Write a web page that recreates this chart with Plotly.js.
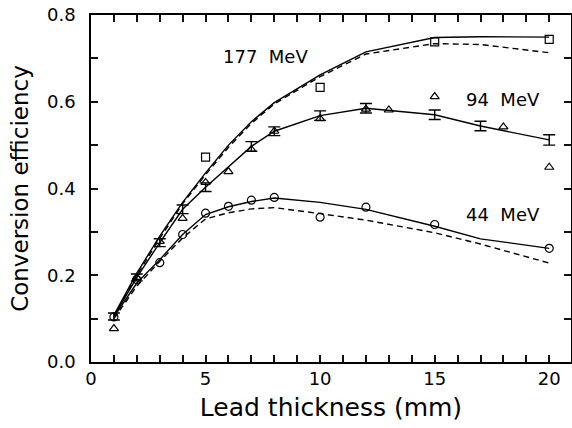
<!DOCTYPE html>
<html>
<head>
<meta charset="utf-8">
<script src="https://cdn.plot.ly/plotly-3.0.1.min.js"></script>
<style>html,body{margin:0;padding:0;background:#fff;}#chart{width:572px;height:428px;}</style>
</head>
<body>
<div id="chart"></div>
<script>
// 177 MeV
const sqX = [5, 10, 15, 20];
const sqY = [0.4725, 0.633, 0.738, 0.744];
const line177X = [1, 2, 3, 4, 5, 6, 7, 8, 10, 12, 15, 17, 20];
const line177Y = [0.108, 0.205, 0.290, 0.368, 0.436, 0.500, 0.554, 0.598, 0.662, 0.715, 0.748, 0.750, 0.749];
const dash177Y = [0.105, 0.200, 0.285, 0.365, 0.432, 0.495, 0.550, 0.595, 0.658, 0.710, 0.734, 0.732, 0.713];
// 94 MeV
const triX = [1, 2, 3, 4, 5, 6, 7, 8, 10, 12, 13, 15, 18, 20];
const triY = [0.077, 0.195, 0.278, 0.331, 0.414, 0.439, 0.490, 0.532, 0.561, 0.583, 0.581, 0.612, 0.542, 0.449];
const errX = [1, 2, 3, 4, 5, 7, 8, 10, 12, 15, 17, 20];
const errY = [0.105, 0.195, 0.275, 0.352, 0.403, 0.497, 0.532, 0.568, 0.585, 0.570, 0.544, 0.512];
const errE = [0.008, 0.008, 0.009, 0.010, 0.010, 0.011, 0.010, 0.011, 0.011, 0.011, 0.011, 0.012];
// 44 MeV
const circX = [1, 2, 3, 4, 5, 6, 7, 8, 10, 12, 15, 20];
const circY = [0.104, 0.190, 0.229, 0.294, 0.343, 0.359, 0.373, 0.3795, 0.334, 0.357, 0.317, 0.262];
const line44X = [1, 2, 3, 4, 5, 6, 7, 8, 10, 12, 15, 17, 20];
const line44Y = [0.104, 0.182, 0.236, 0.294, 0.340, 0.358, 0.370, 0.378, 0.368, 0.352, 0.313, 0.284, 0.262];
const dash44Y = [0.100, 0.175, 0.232, 0.286, 0.330, 0.344, 0.353, 0.356, 0.342, 0.327, 0.298, 0.272, 0.228];
// labels
const labels = ["177\u00A0\u00A0MeV", "94\u00A0\u00A0MeV", "44\u00A0\u00A0MeV"];
const labelX = [7.6, 18.0, 18.0];
const labelY = [0.705, 0.606, 0.341];
const xTickVals = [0, 1, 2, 3, 4, 5, 6, 7, 8, 9, 10, 11, 12, 13, 14, 15, 16, 17, 18, 19, 20];
const xTickText = ["0", "", "", "", "", "5", "", "", "", "", "10", "", "", "", "", "15", "", "", "", "", "20"];
const yTickVals = [0.0, 0.1, 0.2, 0.3, 0.4, 0.5, 0.6, 0.7, 0.8];
const yTickText = ["0.0", "", "0.2", "", "0.4", "", "0.6", "", "0.8"];
const xRange = [0, 20.95];
const yRange = [0, 0.8];

const FONT = "DejaVu Sans, Liberation Sans, sans-serif";
const lineStyle = {color: "#000", width: 1.4};
const dashStyle = {color: "#000", width: 1.4, dash: "6px,4px"};
const mk = (sym) => ({symbol: sym, size: 8, color: "#000", line: {color: "#000", width: 1.2}});

const traces = [
  {x: line177X, y: line177Y, mode: "lines", line: lineStyle},
  {x: line177X, y: dash177Y, mode: "lines", line: dashStyle},
  {x: line44X, y: line44Y, mode: "lines", line: lineStyle},
  {x: line44X, y: dash44Y, mode: "lines", line: dashStyle},
  {x: errX, y: errY, mode: "lines", line: lineStyle,
   error_y: {type: "data", array: errE, visible: true, color: "#000", thickness: 1.4, width: 6}},
  {x: sqX, y: sqY, mode: "markers", marker: mk("square-open")},
  {x: triX, y: triY, mode: "markers", marker: mk("triangle-up-open")},
  {x: circX, y: circY, mode: "markers", marker: mk("circle-open")}
];

const annotations = labels.map((t, i) => ({
  x: labelX[i], y: labelY[i], xref: "x", yref: "y", text: t, showarrow: false,
  font: {family: FONT, size: 18, color: "#000"}, xanchor: "center", yanchor: "middle"
}));

const layout = {
  width: 572, height: 428,
  margin: {l: 91, r: 1, t: 15, b: 66},
  showlegend: false,
  font: {family: FONT, color: "#000"},
  xaxis: {
    range: xRange, showgrid: false, zeroline: false,
    showline: true, linecolor: "#000", linewidth: 1.5, mirror: "allticks",
    ticks: "inside", ticklen: 7, tickwidth: 2, tickcolor: "#111",
    tickvals: xTickVals, ticktext: xTickText,
    tickfont: {family: FONT, size: 18, color: "#000"},
    title: {text: "Lead thickness (mm)", font: {family: FONT, size: 25, color: "#000"}, standoff: 10}
  },
  yaxis: {
    range: yRange, showgrid: false, zeroline: false,
    showline: true, linecolor: "#000", linewidth: 1.5, mirror: "allticks",
    ticks: "inside", ticklen: 7, tickwidth: 2, tickcolor: "#111",
    tickvals: yTickVals, ticktext: yTickText,
    tickfont: {family: FONT, size: 18, color: "#000"},
    ticklabelstandoff: 10,
    title: {text: "Conversion efficiency", font: {family: FONT, size: 23, color: "#000"}, standoff: 12}
  },
  annotations: annotations
};

Plotly.newPlot("chart", traces, layout, {displayModeBar: false});
</script>
</body>
</html>
